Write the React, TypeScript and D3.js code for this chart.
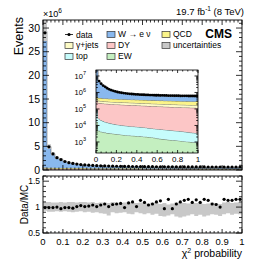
import React from "react";
import * as d3 from "d3";

// ---------------- data (50 bins of chi2 probability, 0..1) ----------------
const nBins = 50;
// observed events (x 1e6)
const dataVals = [29.0, 4.9, 3.4, 2.6, 2.2, 1.8, 1.55, 1.38, 1.25, 1.15, 1.07, 1.01, 0.96, 0.92, 0.89, 0.86, 0.83, 0.81, 0.79, 0.77, 0.76, 0.75, 0.74, 0.73, 0.72, 0.71, 0.7, 0.7, 0.69, 0.68, 0.68, 0.67, 0.67, 0.66, 0.66, 0.65, 0.65, 0.65, 0.64, 0.64, 0.64, 0.63, 0.63, 0.63, 0.63, 0.62, 0.62, 0.62, 0.62, 0.63];
// MC components (events)
const wVals = [28740000, 4490000, 2980000, 2160000, 1830000, 1390000, 1150000, 990000, 835000, 710000, 661000, 600000, 528000, 528000, 470000, 436000, 444000, 404000, 375000, 360000, 405000, 341000, 318000, 377000, 289000, 312000, 332000, 328000, 292000, 280000, 372000, 262000, 367000, 307000, 282000, 264000, 253000, 291000, 254000, 287000, 254000, 259000, 300000, 301000, 340000, 246000, 260000, 265000, 252000, 248000];
const qcdVals = [160000, 150000, 158000, 145000, 152000, 148000, 141000, 150000, 139000, 146000, 140000, 136000, 144000, 135000, 140000, 132000, 138000, 130000, 136000, 128000, 134000, 127000, 131000, 125000, 130000, 124000, 128000, 122000, 127000, 121000, 126000, 120000, 125000, 119000, 123000, 118000, 122000, 117000, 121000, 116000, 120000, 118000, 115000, 121000, 114000, 119000, 116000, 113000, 118000, 132000];
const gjetsVals = [90000, 80000, 78000, 77000, 76000, 75000, 74000, 73000, 72000, 71500, 71000, 70500, 70000, 69500, 69000, 68500, 68000, 67500, 67000, 66500, 66000, 65500, 65000, 64500, 64000, 63500, 63000, 62500, 62000, 61500, 61000, 60500, 60000, 59500, 59000, 58500, 58000, 57500, 57000, 56500, 56000, 55500, 55000, 54500, 54000, 53500, 53000, 52500, 52000, 51500];
const dyVals = [213000, 204000, 199000, 195000, 192000, 189000, 186000, 183000, 180000, 178000, 176000, 173000, 171000, 169000, 167000, 165000, 163000, 161000, 159000, 157000, 155000, 153000, 151000, 149000, 147000, 145000, 143000, 141000, 139500, 138000, 136500, 135000, 133500, 132000, 130500, 129000, 127500, 126000, 124500, 123000, 122000, 121000, 120000, 119000, 118000, 117000, 116000, 115000, 114000, 113000];
const topVals = [71000, 21200, 16800, 14600, 12800, 11500, 10650, 9750, 9150, 8650, 8250, 7850, 7550, 7250, 7000, 6800, 6550, 6400, 6250, 6100, 5950, 5800, 5650, 5500, 5350, 5000, 4850, 4700, 4600, 4500, 4400, 4300, 4200, 4100, 4000, 3900, 3780, 3660, 3540, 3470, 3400, 3290, 3180, 3070, 2950, 2830, 2710, 2640, 2570, 2500];
const ewVals = [16000, 4800, 4200, 3900, 3700, 3500, 3350, 3250, 3150, 3050, 2950, 2850, 2750, 2650, 2600, 2500, 2450, 2400, 2350, 2300, 2250, 2200, 2150, 2100, 2050, 2000, 1950, 1900, 1800, 1700, 1600, 1550, 1500, 1450, 1400, 1350, 1320, 1290, 1260, 1230, 1200, 1160, 1120, 1080, 1050, 1020, 990, 960, 930, 900];
// Data/MC ratio and relative MC uncertainty band
const ratioVals = [0.99, 0.99, 0.99, 1.0, 0.97, 0.99, 0.99, 0.98, 1.01, 1.03, 1.01, 1.02, 1.04, 1.01, 1.04, 1.06, 1.01, 1.05, 1.06, 1.07, 0.99, 1.08, 1.1, 1.01, 1.13, 1.09, 1.04, 1.06, 1.1, 1.12, 0.97, 1.15, 0.97, 1.06, 1.1, 1.13, 1.15, 1.09, 1.14, 1.09, 1.15, 1.13, 1.06, 1.05, 1.0, 1.15, 1.13, 1.13, 1.15, 1.15];
const bandHi = [1.1, 1.1, 1.09, 1.09, 1.1, 1.09, 1.1, 1.1, 1.09, 1.1, 1.1, 1.09, 1.1, 1.08, 1.09, 1.09, 1.08, 1.1, 1.09, 1.08, 1.09, 1.1, 1.09, 1.08, 1.09, 1.08, 1.07, 1.09, 1.1, 1.06, 1.08, 1.05, 1.07, 1.09, 1.1, 1.08, 1.07, 1.09, 1.08, 1.1, 1.06, 1.07, 1.09, 1.08, 1.06, 1.09, 1.1, 1.08, 1.09, 1.1];
const bandLo = [0.93, 0.91, 0.91, 0.92, 0.91, 0.92, 0.91, 0.9, 0.91, 0.92, 0.9, 0.91, 0.89, 0.9, 0.88, 0.87, 0.84, 0.9, 0.88, 0.89, 0.9, 0.87, 0.86, 0.9, 0.88, 0.86, 0.88, 0.85, 0.87, 0.83, 0.82, 0.84, 0.86, 0.82, 0.8, 0.82, 0.84, 0.86, 0.83, 0.85, 0.82, 0.84, 0.86, 0.85, 0.83, 0.86, 0.88, 0.85, 0.87, 0.86];

const mainYTicks = [0, 5, 10, 15, 20, 25, 30];
const xTickVals = [0, 0.1, 0.2, 0.3, 0.4, 0.5, 0.6, 0.7, 0.8, 0.9, 1];
const xTickLabels = ["0", "0.1", "0.2", "0.3", "0.4", "0.5", "0.6", "0.7", "0.8", "0.9", "1"];
const ratioTicks = [0.5, 1, 1.5];
const ratioTickLabels = ["0.5", "1", "1.5"];
const insetXTicks = [0, 0.2, 0.4, 0.6, 0.8, 1];
const insetXLabels = ["0", "0.2", "0.4", "0.6", "0.8", "1"];
const insetYExps = [3, 4, 5, 6, 7];

const keys = ["ew", "top", "dy", "gjets", "qcd", "w"];
const colors: Record<string, string> = {
  ew: "#c4efc0",
  top: "#c6fcfc",
  dy: "#fcc6c6",
  gjets: "#fdfbc6",
  qcd: "#fbf48a",
  w: "#89b8ee",
};
const uncColor = "#c8c8c8";

// ---------------- layout ----------------
const Wd = 270, Ht = 262;
const M = { l: 43, r: 242, t: 20, b: 170 };
const R = { t: 176, b: 233 };
const I = { l: 96, r: 198, t: 70, b: 153 };
const FONT = "'Liberation Sans', Arial, Helvetica, sans-serif";

export default function App() {
  const x = d3.scaleLinear().domain([0, 1]).range([M.l, M.r]);
  const yMain = d3.scaleLinear().domain([0, 31.7e6]).range([M.b, M.t]);
  const yRat = d3.scaleLinear().domain([0.5, 1.6]).range([R.b, R.t]);
  const xIn = d3.scaleLinear().domain([0, 1]).range([I.l, I.r]);
  const yIn = d3.scaleLog().domain([215, 2.3e7]).range([I.b, I.t]);

  const rows = d3.range(nBins).map((i) => ({
    ew: ewVals[i], top: topVals[i], dy: dyVals[i], gjets: gjetsVals[i], qcd: qcdVals[i], w: wVals[i],
  }));
  const stacked = d3.stack<any>().keys(keys)(rows);
  const total = rows.map((r) => keys.reduce((s, k) => s + (r as any)[k], 0));

  const stepPts = (lo: (i: number) => number, hi: (i: number) => number) => {
    const pts: { x: number; y0: number; y1: number }[] = [];
    for (let i = 0; i < nBins; i++) {
      pts.push({ x: i / nBins, y0: lo(i), y1: hi(i) });
      pts.push({ x: (i + 1) / nBins, y0: lo(i), y1: hi(i) });
    }
    return pts;
  };

  const mkArea = (xs: any, ys: any, floor: number) =>
    d3.area<any>().x((p) => xs(p.x)).y0((p) => ys(Math.max(p.y0, floor))).y1((p) => ys(Math.max(p.y1, floor)));
  const mkLine = (xs: any, ys: any, floor: number) =>
    d3.line<any>().x((p) => xs(p.x)).y((p) => ys(Math.max(p.y1, floor)));

  const binC = (i: number) => (i + 0.5) / nBins;

  // ticks helper
  const ticks: JSX.Element[] = [];
  const tl = (x1: number, y1: number, x2: number, y2: number) =>
    ticks.push(<line key={ticks.length} x1={x1} y1={y1} x2={x2} y2={y2} stroke="#000" strokeWidth={0.8} />);

  // main y ticks
  for (let v = 0; v <= 31; v++) {
    const len = v % 5 === 0 ? 6 : 3;
    const yy = yMain(v * 1e6);
    tl(M.l, yy, M.l + len, yy);
    tl(M.r, yy, M.r - len, yy);
  }
  // x ticks main + ratio
  for (let k = 0; k <= 50; k++) {
    const xx = x(k / 50);
    const major = k % 5 === 0;
    const lm = major ? 5 : 2.5;
    tl(xx, M.b, xx, M.b - lm);
    tl(xx, M.t, xx, M.t + lm);
    const lr = major ? 4 : 2;
    tl(xx, R.b, xx, R.b - lr);
    tl(xx, R.t, xx, R.t + lr);
  }
  // ratio y ticks
  for (let k = 5; k <= 16; k++) {
    const v = k / 10;
    const major = k % 5 === 0;
    const len = major ? 6 : 3;
    const yy = yRat(v);
    tl(M.l, yy, M.l + len, yy);
    tl(M.r, yy, M.r - len, yy);
  }
  // inset ticks
  for (let e = 2; e <= 7; e++) {
    for (let m = 1; m <= 9; m++) {
      const v = m * Math.pow(10, e);
      if (v < 215 || v > 2.3e7) continue;
      const yy = yIn(v);
      const len = m === 1 ? 3.5 : 1.8;
      tl(I.l, yy, I.l + len, yy);
      tl(I.r, yy, I.r - len, yy);
    }
  }
  for (let k = 0; k <= 20; k++) {
    const xx = xIn(k / 20);
    const len = k % 4 === 0 ? 3 : 1.5;
    tl(xx, I.b, xx, I.b - len);
    tl(xx, I.t, xx, I.t + len);
  }

  const legendBox = (bx: number, by: number, fill: string, label: React.ReactNode, key: string) => (
    <g key={key}>
      <rect x={bx} y={by} width={8} height={6} fill={fill} stroke="#333" strokeWidth={0.7} />
      <text x={bx + 11} y={by + 5.5} fontSize={8.5} fontFamily={FONT}>{label}</text>
    </g>
  );

  return (
    <svg width={Wd} height={Ht} style={{ position: "absolute", left: 0, top: 0, background: "#fff" }} fontFamily={FONT}>
      <defs>
        <clipPath id="clipMain"><rect x={M.l} y={M.t} width={M.r - M.l} height={M.b - M.t} /></clipPath>
        <clipPath id="clipIn"><rect x={I.l} y={I.t} width={I.r - I.l} height={I.b - I.t} /></clipPath>
        <clipPath id="clipRat"><rect x={M.l} y={R.t} width={M.r - M.l} height={R.b - R.t} /></clipPath>
      </defs>
      <rect x={0} y={0} width={Wd} height={Ht} fill="#fff" />

      {/* ---------- main panel ---------- */}
      <g clipPath="url(#clipMain)">
        {stacked.map((s) => {
          const pts = stepPts((i) => s[i][0], (i) => s[i][1]);
          return (
            <g key={s.key}>
              <path d={mkArea(x, yMain, 0)(pts) || ""} fill={colors[s.key]} />
              <path d={mkLine(x, yMain, 0)(pts) || ""} fill="none" stroke="#444" strokeWidth={0.5} />
            </g>
          );
        })}
        <path
          d={mkArea(x, yMain, 0)(stepPts((i) => total[i] * bandLo[i], (i) => total[i] * bandHi[i])) || ""}
          fill={uncColor}
        />
        {dataVals.map((v, i) => (
          <circle key={i} cx={x(binC(i))} cy={yMain(v * 1e6)} r={1.6} fill="#000" />
        ))}
      </g>
      <rect x={M.l} y={M.t} width={M.r - M.l} height={M.b - M.t} fill="none" stroke="#000" strokeWidth={0.9} />

      {/* ---------- inset ---------- */}
      <rect x={I.l} y={I.t} width={I.r - I.l} height={I.b - I.t} fill="#fff" />
      <g clipPath="url(#clipIn)">
        {stacked.map((s) => {
          const pts = stepPts((i) => s[i][0], (i) => s[i][1]);
          return (
            <g key={s.key}>
              <path d={mkArea(xIn, yIn, 100)(pts) || ""} fill={colors[s.key]} />
              <path d={mkLine(xIn, yIn, 100)(pts) || ""} fill="none" stroke="#333" strokeWidth={0.6} />
            </g>
          );
        })}
        {dataVals.map((v, i) => (
          <circle key={i} cx={xIn(binC(i))} cy={yIn(v * 1e6)} r={1.4} fill="#000" />
        ))}
      </g>
      <rect x={I.l} y={I.t} width={I.r - I.l} height={I.b - I.t} fill="none" stroke="#000" strokeWidth={0.8} />
      {insetXTicks.map((v, k) => (
        <text key={k} x={xIn(v)} y={I.b + 9} fontSize={8} textAnchor="middle">{insetXLabels[k]}</text>
      ))}
      {insetYExps.map((e) => (
        <text key={e} x={I.l - 10} y={yIn(Math.pow(10, e)) + 3} fontSize={7.5} textAnchor="end">
          10
          <tspan fontSize={5.5} dy={-3.5}>{e}</tspan>
        </text>
      ))}

      {/* ---------- ratio panel ---------- */}
      <g clipPath="url(#clipRat)">
        <path
          d={mkArea(x, yRat, 0)(stepPts((i) => bandLo[i], (i) => bandHi[i])) || ""}
          fill={uncColor}
        />
        {ratioVals.map((v, i) => (
          <circle key={i} cx={x(binC(i))} cy={yRat(v)} r={1.6} fill="#000" />
        ))}
      </g>
      <rect x={M.l} y={R.t} width={M.r - M.l} height={R.b - R.t} fill="none" stroke="#000" strokeWidth={0.9} />

      {ticks}

      {/* axis labels */}
      {mainYTicks.map((v) => (
        <text key={v} x={M.l - 3} y={yMain(v * 1e6) + 3.7} fontSize={10.5} textAnchor="end">{v}</text>
      ))}
      {ratioTicks.map((v, k) => (
        <text key={v} x={M.l - 3} y={yRat(v) + 3} fontSize={8.5} textAnchor="end">{ratioTickLabels[k]}</text>
      ))}
      {xTickVals.map((v, k) => (
        <text key={k} x={x(v)} y={R.b + 12} fontSize={9.5} textAnchor="middle">{xTickLabels[k]}</text>
      ))}
      <text x={M.l} y={17} fontSize={9}>
        ×10<tspan fontSize={6.5} dy={-4}>6</tspan>
      </text>
      <text x={M.r + 2} y={15} fontSize={9.5} textAnchor="end">
        19.7 fb<tspan fontSize={6.5} dy={-4}>-1</tspan><tspan dy={4}> (8 TeV)</tspan>
      </text>
      <text x={232} y={38} fontSize={12} fontWeight="bold" textAnchor="end">CMS</text>
      <text transform={`translate(23,${M.t - 3}) rotate(-90)`} fontSize={12.5} textAnchor="end">Events</text>
      <text transform={`translate(28,${(R.t + R.b) / 2}) rotate(-90)`} fontSize={10} textAnchor="middle">Data/MC</text>
      <text x={M.r} y={257} fontSize={10.5} textAnchor="end">
        χ<tspan fontSize={7} dy={-4}>2</tspan><tspan dy={4}> probability</tspan>
      </text>

      {/* legend */}
      <g>
        <line x1={65} y1={34.5} x2={73} y2={34.5} stroke="#000" strokeWidth={0.8} />
        <circle cx={69} cy={34.5} r={1.6} fill="#000" />
        <text x={76} y={37.5} fontSize={8.5}>data</text>
      </g>
      {legendBox(65, 42.5, colors.gjets, "γ+jets", "gj")}
      {legendBox(65, 53.5, colors.top, "top", "top")}
      {legendBox(107, 31.5, colors.w, "W → e ν", "w")}
      {legendBox(107, 42.5, colors.dy, "DY", "dy")}
      {legendBox(107, 53.5, colors.ew, "EW", "ew")}
      {legendBox(162, 31.5, colors.qcd, "QCD", "qcd")}
      {legendBox(162, 42.5, uncColor, "uncertainties", "unc")}
    </svg>
  );
}
